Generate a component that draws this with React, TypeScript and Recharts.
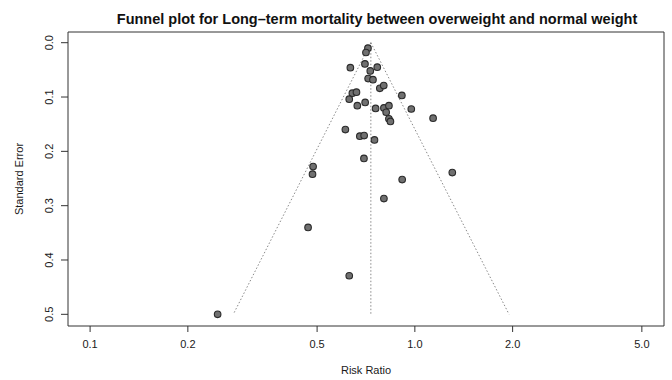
import React from "react";
import { ScatterChart, Scatter, XAxis, YAxis, ReferenceLine, ReferenceArea } from "recharts";

// Study estimates: risk ratio and standard error
const riskRatio = [
  0.717, 0.707, 0.633, 0.702, 0.766, 0.729, 0.718, 0.743, 0.780, 0.802,
  0.642, 0.661, 0.912, 0.628, 0.703, 0.665, 0.757, 0.803, 0.832, 0.816,
  0.975, 0.832, 0.841, 1.138, 0.611, 0.677, 0.698, 0.751, 0.697, 0.486,
  0.484, 1.304, 0.914, 0.803, 0.469, 0.628, 0.247,
];
const standardError = [
  0.010, 0.018, 0.046, 0.039, 0.045, 0.052, 0.066, 0.068, 0.084, 0.079,
  0.093, 0.091, 0.097, 0.104, 0.110, 0.116, 0.121, 0.120, 0.116, 0.128,
  0.122, 0.140, 0.145, 0.139, 0.160, 0.172, 0.171, 0.179, 0.213, 0.228,
  0.242, 0.239, 0.252, 0.287, 0.340, 0.429, 0.500,
];

// Funnel (pooled estimate and 95% limits at SE = 0.5)
const pooledRR = 0.732;
const funnelLowerRR = 0.276;
const funnelUpperRR = 1.95;
const funnelMaxSE = 0.5;

const xTicks = [0.1, 0.2, 0.5, 1, 2, 5];
const yTicks = [0, 0.1, 0.2, 0.3, 0.4, 0.5];

const title = "Funnel plot for Long\u2013term mortality between overweight and normal weight";
const xLabel = "Risk Ratio";
const yLabel = "Standard Error";

const data = riskRatio.map((x, i) => ({ x, y: standardError[i] }));

const FONT = "'Liberation Sans', Arial, Helvetica, sans-serif";
const xDomain: [number, number] = [0.0855, 5.85];
const yDomain: [number, number] = [-0.0197, 0.5215];

const XTick = (props: any) => {
  const { x, payload } = props;
  return (
    <text x={x} y={347.5} textAnchor="middle" fontFamily={FONT} fontSize={11} fill="#1a1a1a">
      {Number(payload.value).toFixed(1)}
    </text>
  );
};

const YTick = (props: any) => {
  const { y, payload } = props;
  const bx = 53;
  return (
    <text
      x={bx}
      y={y}
      transform={`rotate(-90 ${bx} ${y})`}
      textAnchor="middle"
      fontFamily={FONT}
      fontSize={11}
      fill="#1a1a1a"
    >
      {Number(payload.value).toFixed(1)}
    </text>
  );
};

const Dot = (props: any) => {
  const { cx, cy } = props;
  return <circle cx={cx} cy={cy} r={3.3} fill="#707070" stroke="#2a2a2a" strokeWidth={1.1} />;
};

const dotted = { stroke: "#8a8a8a", strokeWidth: 1, strokeDasharray: "1.5 2" };

export default function App() {
  return (
    <div style={{ position: "absolute", left: 0, top: 0, width: 672, height: 380, background: "#fff" }}>
      <ScatterChart width={672} height={380} margin={{ top: 32, right: 8, bottom: 0, left: 0 }}>
        <XAxis
          dataKey="x"
          type="number"
          scale="log"
          domain={xDomain}
          allowDataOverflow
          ticks={xTicks}
          tick={<XTick />}
          tickSize={6}
          tickLine={{ stroke: "#333" }}
          axisLine={false}
          height={54}
          interval={0}
        />
        <YAxis
          dataKey="y"
          type="number"
          reversed
          domain={yDomain}
          allowDataOverflow
          ticks={yTicks}
          tick={<YTick />}
          tickSize={7}
          tickLine={{ stroke: "#333" }}
          axisLine={false}
          width={68}
          interval={0}
        />
        <ReferenceArea
          x1={xDomain[0]}
          x2={xDomain[1]}
          y1={yDomain[0]}
          y2={yDomain[1]}
          fill="none"
          fillOpacity={0}
          stroke="#333"
          strokeWidth={1}
        />
        <ReferenceLine
          segment={[{ x: pooledRR, y: 0 }, { x: pooledRR, y: funnelMaxSE }]}
          {...dotted}
        />
        <ReferenceLine
          segment={[{ x: pooledRR, y: 0 }, { x: funnelLowerRR, y: funnelMaxSE }]}
          {...dotted}
        />
        <ReferenceLine
          segment={[{ x: pooledRR, y: 0 }, { x: funnelUpperRR, y: funnelMaxSE }]}
          {...dotted}
        />
        <Scatter data={data} shape={<Dot />} isAnimationActive={false} />
      </ScatterChart>
      <svg
        width={672}
        height={380}
        style={{ position: "absolute", left: 0, top: 0, pointerEvents: "none" }}
      >
        <text x={377} y={24} textAnchor="middle" fontFamily={FONT} fontSize={14.5} fontWeight="bold" fill="#111">
          {title}
        </text>
        <text x={366} y={374} textAnchor="middle" fontFamily={FONT} fontSize={11} fill="#1a1a1a">
          {xLabel}
        </text>
        <text
          x={23}
          y={179}
          transform="rotate(-90 23 179)"
          textAnchor="middle"
          fontFamily={FONT}
          fontSize={11}
          fill="#1a1a1a"
        >
          {yLabel}
        </text>
      </svg>
    </div>
  );
}
